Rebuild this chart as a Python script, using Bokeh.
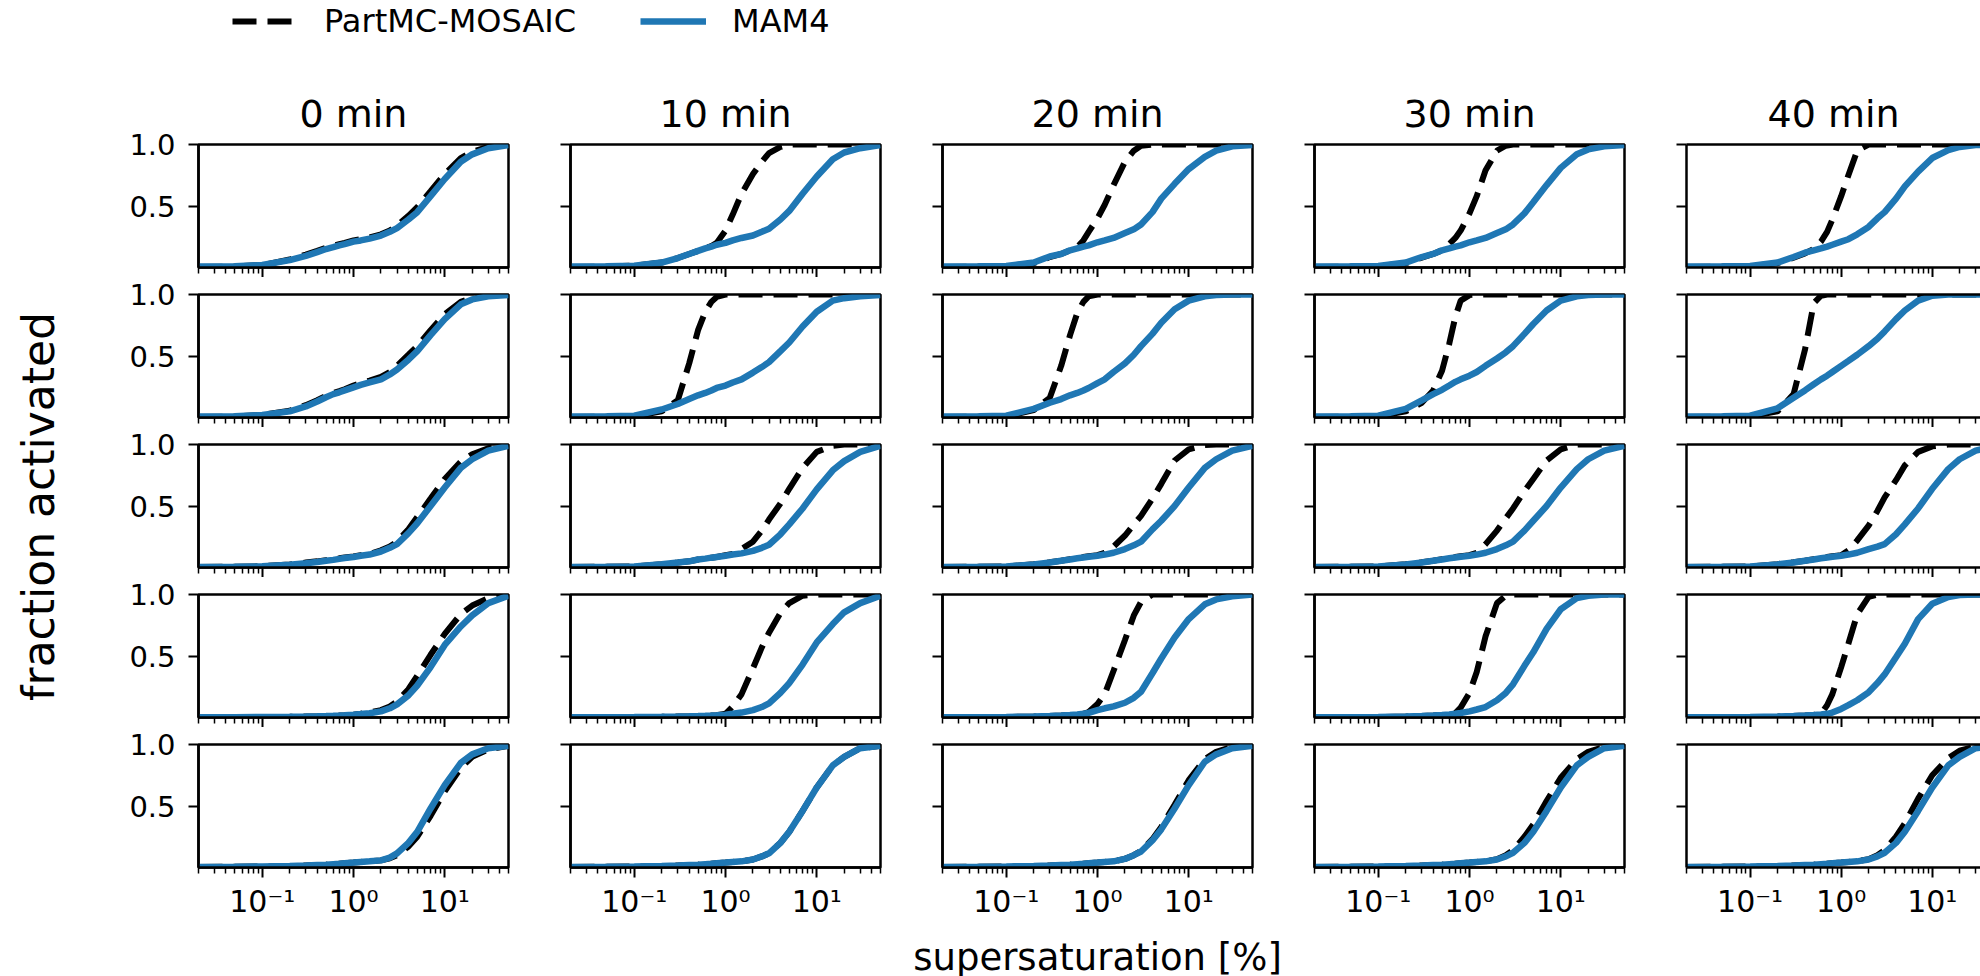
import math
from bokeh.plotting import figure
from bokeh.models import Range1d, FixedTicker, Legend, LegendItem, Label, LogAxis
from bokeh.layouts import row, column
from bokeh.embed import file_html
from bokeh.resources import INLINE

FONT = "DejaVu Sans"
BLUE = "#1f77b4"

# supersaturation grid [%]
SS = [0.02, 0.05, 0.1, 0.2, 0.3, 0.4, 0.5, 0.6, 0.7, 0.8, 1, 1.2, 1.5, 2, 2.5, 3, 4, 5, 7, 10, 15, 20, 30, 50]
TIMES = ["0 min", "10 min", "20 min", "30 min", "40 min"]
X_TICKS = [0.1, 1, 10]
X_TICK_LABELS = ["10\u207b\u00b9", "10\u2070", "10\u00b9"]
Y_TICKS = [0.5, 1.0]
Y_TICK_LABELS = ["0.5", "1.0"]

# fraction activated, one list per time column
mam4_r1 = [
    [.008,.01,.02,.06,.095,.125,.15,.165,.18,.19,.21,.22,.235,.26,.29,.32,.39,.45,.58,.72,.86,.92,.97,.995],
    [.008,.01,.015,.04,.077,.11,.135,.155,.17,.185,.20,.22,.24,.26,.29,.315,.39,.46,.60,.74,.88,.935,.97,.995],
    [.008,.01,.012,.04,.09,.11,.14,.155,.17,.18,.205,.22,.24,.28,.31,.35,.45,.56,.68,.80,.90,.95,.985,.995],
    [.008,.01,.012,.04,.085,.11,.14,.155,.17,.18,.205,.22,.24,.28,.31,.35,.44,.53,.67,.81,.92,.96,.985,.995],
    [.008,.01,.012,.04,.085,.12,.14,.155,.17,.185,.21,.23,.27,.33,.40,.45,.56,.66,.78,.89,.955,.98,.995,1.0],
]
partmc_r1 = [
    [.005,.008,.02,.065,.105,.135,.16,.175,.19,.20,.22,.23,.245,.27,.30,.34,.42,.49,.62,.76,.89,.94,.98,1.0],
    [.005,.008,.015,.04,.077,.11,.135,.155,.175,.20,.30,.43,.60,.76,.86,.93,.98,1.0,1.0,1.0,1.0,1.0,1.0,1.0],
    [.005,.008,.012,.035,.085,.11,.14,.165,.22,.29,.40,.51,.67,.86,.95,.99,1.0,1.0,1.0,1.0,1.0,1.0,1.0,1.0],
    [.005,.008,.012,.035,.08,.11,.14,.19,.24,.30,.44,.58,.79,.95,.99,1.0,1.0,1.0,1.0,1.0,1.0,1.0,1.0,1.0],
    [.005,.008,.012,.035,.08,.115,.15,.21,.29,.39,.58,.75,.95,1.0,1.0,1.0,1.0,1.0,1.0,1.0,1.0,1.0,1.0,1.0],
]
mam4_r2 = [
    [.008,.01,.02,.05,.09,.13,.165,.19,.205,.22,.245,.265,.285,.31,.35,.39,.47,.54,.67,.80,.92,.96,.985,.995],
    [.008,.01,.015,.065,.11,.15,.18,.20,.22,.24,.26,.285,.31,.365,.41,.45,.54,.61,.74,.86,.95,.97,.985,.995],
    [.008,.01,.015,.07,.12,.15,.18,.20,.22,.24,.28,.31,.37,.44,.51,.58,.68,.77,.88,.95,.985,.995,1.0,1.0],
    [.008,.01,.015,.07,.14,.19,.225,.26,.29,.31,.34,.37,.42,.48,.53,.58,.68,.76,.87,.95,.985,.995,1.0,1.0],
    [.008,.01,.015,.075,.16,.22,.27,.31,.34,.37,.42,.46,.51,.58,.64,.70,.80,.87,.95,.99,1.0,1.0,1.0,1.0],
]
partmc_r2 = [
    [.005,.008,.02,.055,.10,.14,.175,.20,.215,.23,.26,.28,.30,.33,.37,.42,.51,.58,.71,.84,.94,.975,.99,1.0],
    [.005,.006,.01,.05,.14,.44,.71,.86,.94,.98,1.0,1.0,1.0,1.0,1.0,1.0,1.0,1.0,1.0,1.0,1.0,1.0,1.0,1.0],
    [.005,.006,.01,.06,.16,.42,.67,.85,.94,.985,1.0,1.0,1.0,1.0,1.0,1.0,1.0,1.0,1.0,1.0,1.0,1.0,1.0,1.0],
    [.005,.006,.01,.05,.12,.22,.38,.60,.82,.95,.995,1.0,1.0,1.0,1.0,1.0,1.0,1.0,1.0,1.0,1.0,1.0,1.0,1.0],
    [.005,.006,.01,.05,.19,.55,.93,.99,1.0,1.0,1.0,1.0,1.0,1.0,1.0,1.0,1.0,1.0,1.0,1.0,1.0,1.0,1.0,1.0],
]
mam4_r3 = [
    [.005,.006,.01,.022,.035,.045,.055,.062,.07,.077,.085,.095,.105,.13,.16,.19,.28,.36,.50,.65,.81,.88,.95,.99],
    [.005,.006,.008,.027,.04,.05,.065,.072,.08,.086,.096,.105,.115,.135,.16,.185,.27,.35,.48,.635,.79,.865,.94,.99],
    [.005,.006,.008,.025,.04,.055,.065,.075,.082,.088,.096,.105,.12,.15,.18,.21,.31,.38,.50,.65,.81,.88,.95,.99],
    [.005,.006,.008,.025,.04,.055,.065,.075,.082,.088,.096,.105,.12,.15,.18,.21,.30,.38,.50,.65,.80,.88,.95,.99],
    [.005,.006,.008,.025,.04,.055,.065,.075,.082,.088,.096,.105,.12,.15,.17,.19,.27,.35,.48,.64,.80,.88,.95,.99],
]
partmc_r3 = [
    [.005,.006,.01,.025,.04,.05,.06,.068,.075,.082,.09,.10,.11,.14,.17,.21,.31,.41,.56,.72,.86,.92,.97,1.0],
    [.005,.006,.008,.027,.04,.05,.065,.072,.08,.086,.10,.11,.15,.21,.30,.39,.52,.64,.81,.94,.99,1.0,1.0,1.0],
    [.005,.006,.008,.027,.042,.055,.068,.077,.085,.092,.10,.12,.17,.26,.35,.42,.56,.68,.87,.96,.995,1.0,1.0,1.0],
    [.005,.006,.008,.027,.042,.055,.068,.077,.085,.092,.10,.12,.19,.30,.40,.48,.62,.72,.87,.96,1.0,1.0,1.0,1.0],
    [.005,.006,.008,.027,.042,.055,.068,.077,.085,.092,.10,.14,.22,.34,.46,.57,.71,.83,.94,.985,1.0,1.0,1.0,1.0],
]
mam4_r4 = [
    [.002,.003,.004,.006,.008,.01,.012,.014,.016,.018,.023,.028,.035,.05,.075,.107,.18,.26,.41,.59,.74,.83,.93,.99],
    [.002,.003,.004,.006,.008,.01,.012,.014,.016,.018,.023,.03,.04,.06,.085,.115,.20,.28,.43,.61,.76,.855,.93,.99],
    [.002,.003,.004,.008,.012,.016,.02,.025,.03,.037,.06,.075,.09,.12,.16,.21,.36,.48,.65,.80,.92,.96,.985,1.0],
    [.002,.003,.004,.008,.012,.016,.02,.025,.03,.037,.05,.065,.085,.14,.20,.27,.42,.53,.72,.88,.97,.99,1.0,1.0],
    [.002,.003,.004,.008,.012,.016,.02,.025,.03,.04,.07,.10,.14,.205,.28,.35,.49,.60,.80,.925,.98,.995,1.0,1.0],
]
partmc_r4 = [
    [.002,.003,.004,.006,.008,.01,.012,.014,.016,.018,.023,.03,.04,.06,.09,.13,.23,.34,.51,.68,.84,.91,.97,1.0],
    [.002,.003,.004,.006,.008,.01,.012,.014,.016,.018,.03,.09,.19,.40,.57,.69,.85,.93,.99,1.0,1.0,1.0,1.0,1.0],
    [.002,.003,.004,.008,.012,.016,.02,.025,.03,.045,.11,.19,.38,.63,.83,.94,1.0,1.0,1.0,1.0,1.0,1.0,1.0,1.0],
    [.002,.003,.004,.008,.012,.016,.02,.025,.035,.08,.20,.37,.66,.93,.99,1.0,1.0,1.0,1.0,1.0,1.0,1.0,1.0,1.0],
    [.002,.003,.004,.008,.012,.016,.02,.03,.10,.19,.41,.60,.84,.98,1.0,1.0,1.0,1.0,1.0,1.0,1.0,1.0,1.0,1.0],
]
mam4_r5 = [
    [.005,.006,.008,.012,.016,.02,.023,.027,.03,.034,.04,.045,.05,.058,.08,.115,.20,.29,.48,.67,.85,.92,.97,.99],
    [.005,.006,.008,.012,.016,.02,.023,.027,.03,.034,.04,.045,.05,.065,.09,.115,.20,.29,.46,.65,.83,.90,.97,.99],
    [.005,.006,.008,.012,.016,.02,.023,.027,.03,.034,.04,.045,.05,.07,.10,.13,.22,.31,.48,.67,.86,.92,.97,.99],
    [.005,.006,.008,.012,.016,.02,.023,.027,.03,.034,.04,.045,.05,.065,.09,.12,.20,.29,.46,.65,.83,.90,.97,.99],
    [.005,.006,.008,.012,.016,.02,.023,.027,.03,.034,.04,.045,.05,.065,.09,.12,.20,.29,.46,.65,.83,.90,.97,.99],
]
partmc_r5 = [
    [.005,.006,.008,.012,.016,.02,.023,.027,.03,.034,.04,.045,.05,.058,.075,.10,.17,.25,.42,.62,.81,.90,.96,.99],
    [.005,.006,.008,.012,.016,.02,.023,.027,.03,.034,.04,.045,.05,.065,.09,.115,.20,.29,.46,.65,.83,.90,.97,.99],
    [.005,.006,.008,.012,.016,.02,.023,.027,.03,.034,.04,.045,.05,.07,.10,.135,.23,.33,.51,.71,.88,.94,.98,1.0],
    [.005,.006,.008,.012,.016,.02,.023,.027,.03,.034,.04,.045,.05,.068,.10,.14,.25,.35,.54,.73,.88,.94,.98,1.0],
    [.005,.006,.008,.012,.016,.02,.023,.027,.03,.034,.04,.045,.05,.068,.10,.14,.25,.36,.56,.75,.89,.95,.985,1.0],
]

MAM4 = [mam4_r1, mam4_r2, mam4_r3, mam4_r4, mam4_r5]
PARTMC = [partmc_r1, partmc_r2, partmc_r3, partmc_r4, partmc_r5]

X_START, X_END = 0.02, 50.0
X_END_CUT = 33.9          # the right-most column is cropped at the page edge
MINOR = [m * 10.0 ** e for e in (-2, -1, 0, 1) for m in range(2, 10) if X_START <= m * 10.0 ** e <= X_END]

HEADER_H = 50
YLAB_W = 80
FRAME_H = 123
COL_W = [310, 310, 310, 310, 294]
TOP_B = 17
BOT_B = 10
LAST_BOT_B = 976 - HEADER_H - (144 - HEADER_H + FRAME_H + BOT_B) - 3 * (TOP_B + FRAME_H + BOT_B) - (TOP_B + FRAME_H)

LW_K = 6
LW_B = 6.5
DASH = "24 11"


def style_xaxis(xa, with_labels, tick_len=10):
    xa.ticker = FixedTicker(ticks=X_TICKS, minor_ticks=MINOR)
    xa.axis_line_width = 2.5
    xa.axis_line_color = "black"
    xa.major_tick_out = tick_len
    xa.major_tick_in = 0
    xa.minor_tick_out = 6 if tick_len else 0
    xa.minor_tick_in = 0
    xa.major_tick_line_width = 2
    xa.minor_tick_line_width = 1.5
    xa.major_tick_line_color = "black"
    xa.minor_tick_line_color = "black"
    if with_labels:
        xa.major_label_overrides = dict(zip(X_TICKS, X_TICK_LABELS))
        xa.major_label_text_font = FONT
        xa.major_label_text_font_size = "30px"
        xa.major_label_text_color = "black"
        xa.major_label_standoff = 6
    else:
        xa.major_label_overrides = {t: "" for t in X_TICKS}
        xa.major_label_text_font_size = "0px"
        xa.major_label_standoff = 0


def make_panel(r, c):
    first_col, last_col = c == 0, c == 4
    top_row, bottom_row = r == 0, r == 4
    kw = {}
    if top_row:
        kw["title"] = TIMES[c]
    p = figure(x_axis_type="log",
               x_range=Range1d(X_START, X_END_CUT if last_col else X_END),
               y_range=Range1d(0, 1),
               frame_width=COL_W[c], frame_height=FRAME_H,
               min_border_left=118 if first_col else 31,
               min_border_right=0 if last_col else 31,
               min_border_top=(144 - HEADER_H) if top_row else TOP_B,
               min_border_bottom=LAST_BOT_B if bottom_row else BOT_B,
               output_backend="svg", toolbar_location=None, **kw)
    p.xgrid.visible = False
    p.ygrid.visible = False
    p.background_fill_color = "white"
    p.border_fill_color = "white"
    if last_col:
        # cropped panel: no right spine, top spine drawn as a bare axis line
        p.outline_line_color = None
        top = LogAxis()
        top.ticker = FixedTicker(ticks=[], minor_ticks=[])
        top.axis_line_width = 2.5
        top.axis_line_color = "black"
        top.major_tick_out = 0
        top.minor_tick_out = 0
        top.major_label_text_font_size = "0px"
        top.major_label_standoff = 0
        p.add_layout(top, "above")
    else:
        p.outline_line_color = "black"
        p.outline_line_alpha = 1.0
        p.outline_line_width = 2.5

    if top_row:
        p.title.text_font = FONT
        p.title.text_font_size = "38px"
        p.title.text_font_style = "normal"
        p.title.align = "center"
        p.title.text_color = "black"
        p.title.standoff = 18

    xa = p.xaxis[0] if not last_col else [a for a in p.below][0]
    style_xaxis(xa, bottom_row)
    if bottom_row and c == 2:
        xa.axis_label = "supersaturation [%]"
        xa.axis_label_text_font = FONT
        xa.axis_label_text_font_size = "37px"
        xa.axis_label_text_font_style = "normal"
        xa.axis_label_text_color = "black"
        xa.axis_label_standoff = 14

    ya = p.yaxis[0]
    ya.ticker = FixedTicker(ticks=Y_TICKS, minor_ticks=[])
    ya.axis_line_width = 2.5
    ya.axis_line_color = "black"
    ya.major_tick_out = 10
    ya.major_tick_in = 0
    ya.minor_tick_out = 0
    ya.minor_tick_in = 0
    ya.major_tick_line_width = 2
    ya.major_tick_line_color = "black"
    if first_col:
        ya.major_label_overrides = dict(zip(Y_TICKS, Y_TICK_LABELS))
        ya.major_label_text_font = FONT
        ya.major_label_text_font_size = "29px"
        ya.major_label_text_color = "black"
        ya.major_label_standoff = 13
    else:
        ya.major_label_overrides = {t: "" for t in Y_TICKS}
        ya.major_label_text_font_size = "0px"
        ya.major_label_standoff = 0

    p.line(SS, PARTMC[r][c], line_color="black", line_width=LW_K, line_dash=DASH)
    p.line(SS, MAM4[r][c], line_color=BLUE, line_width=LW_B)
    return p


rows = []
for r in range(5):
    rows.append(row(*[make_panel(r, c) for c in range(5)]))
grid = column(*rows)

# header with the legend
header = figure(width=1980, height=HEADER_H, x_range=Range1d(0, 1), y_range=Range1d(0, 1),
                x_axis_location=None, y_axis_location=None, min_border=0,
                output_backend="svg", toolbar_location=None)
header.xgrid.visible = False
header.ygrid.visible = False
header.outline_line_color = None
# legend proxies (kept outside the visible range)
r_pm = header.line(x=[-2, -1], y=[-2, -1], line_color="black", line_width=LW_K, line_dash=DASH)
r_mam = header.line(x=[-2, -1], y=[-2, -1], line_color=BLUE, line_width=LW_B)
legend = Legend(items=[LegendItem(label="PartMC-MOSAIC", renderers=[r_pm]),
                       LegendItem(label="MAM4", renderers=[r_mam])],
                orientation="horizontal", location=(232, 10),
                glyph_width=66, glyph_height=30, label_standoff=26, spacing=64,
                padding=0, margin=0, border_line_color=None, background_fill_alpha=0,
                label_text_font=FONT, label_text_font_size="32px", label_text_color="black")
header.add_layout(legend, "center")

# shared y label
grid_h = 976 - HEADER_H
ylab = figure(width=YLAB_W, height=grid_h, x_range=Range1d(0, 1), y_range=Range1d(0, 1),
              x_axis_location=None, y_axis_location=None, min_border=0,
              output_backend="svg", toolbar_location=None)
ylab.xgrid.visible = False
ylab.ygrid.visible = False
ylab.outline_line_color = None
ylab.add_layout(Label(x=38, y=grid_h - (506 - HEADER_H), x_units="screen", y_units="screen",
                      text="fraction activated", angle=math.pi / 2,
                      text_align="center", text_baseline="middle",
                      text_font=FONT, text_font_size="44px", text_color="black"))

layout = column(header, row(ylab, grid))

open("out.html", "w").write(file_html(layout, INLINE))
